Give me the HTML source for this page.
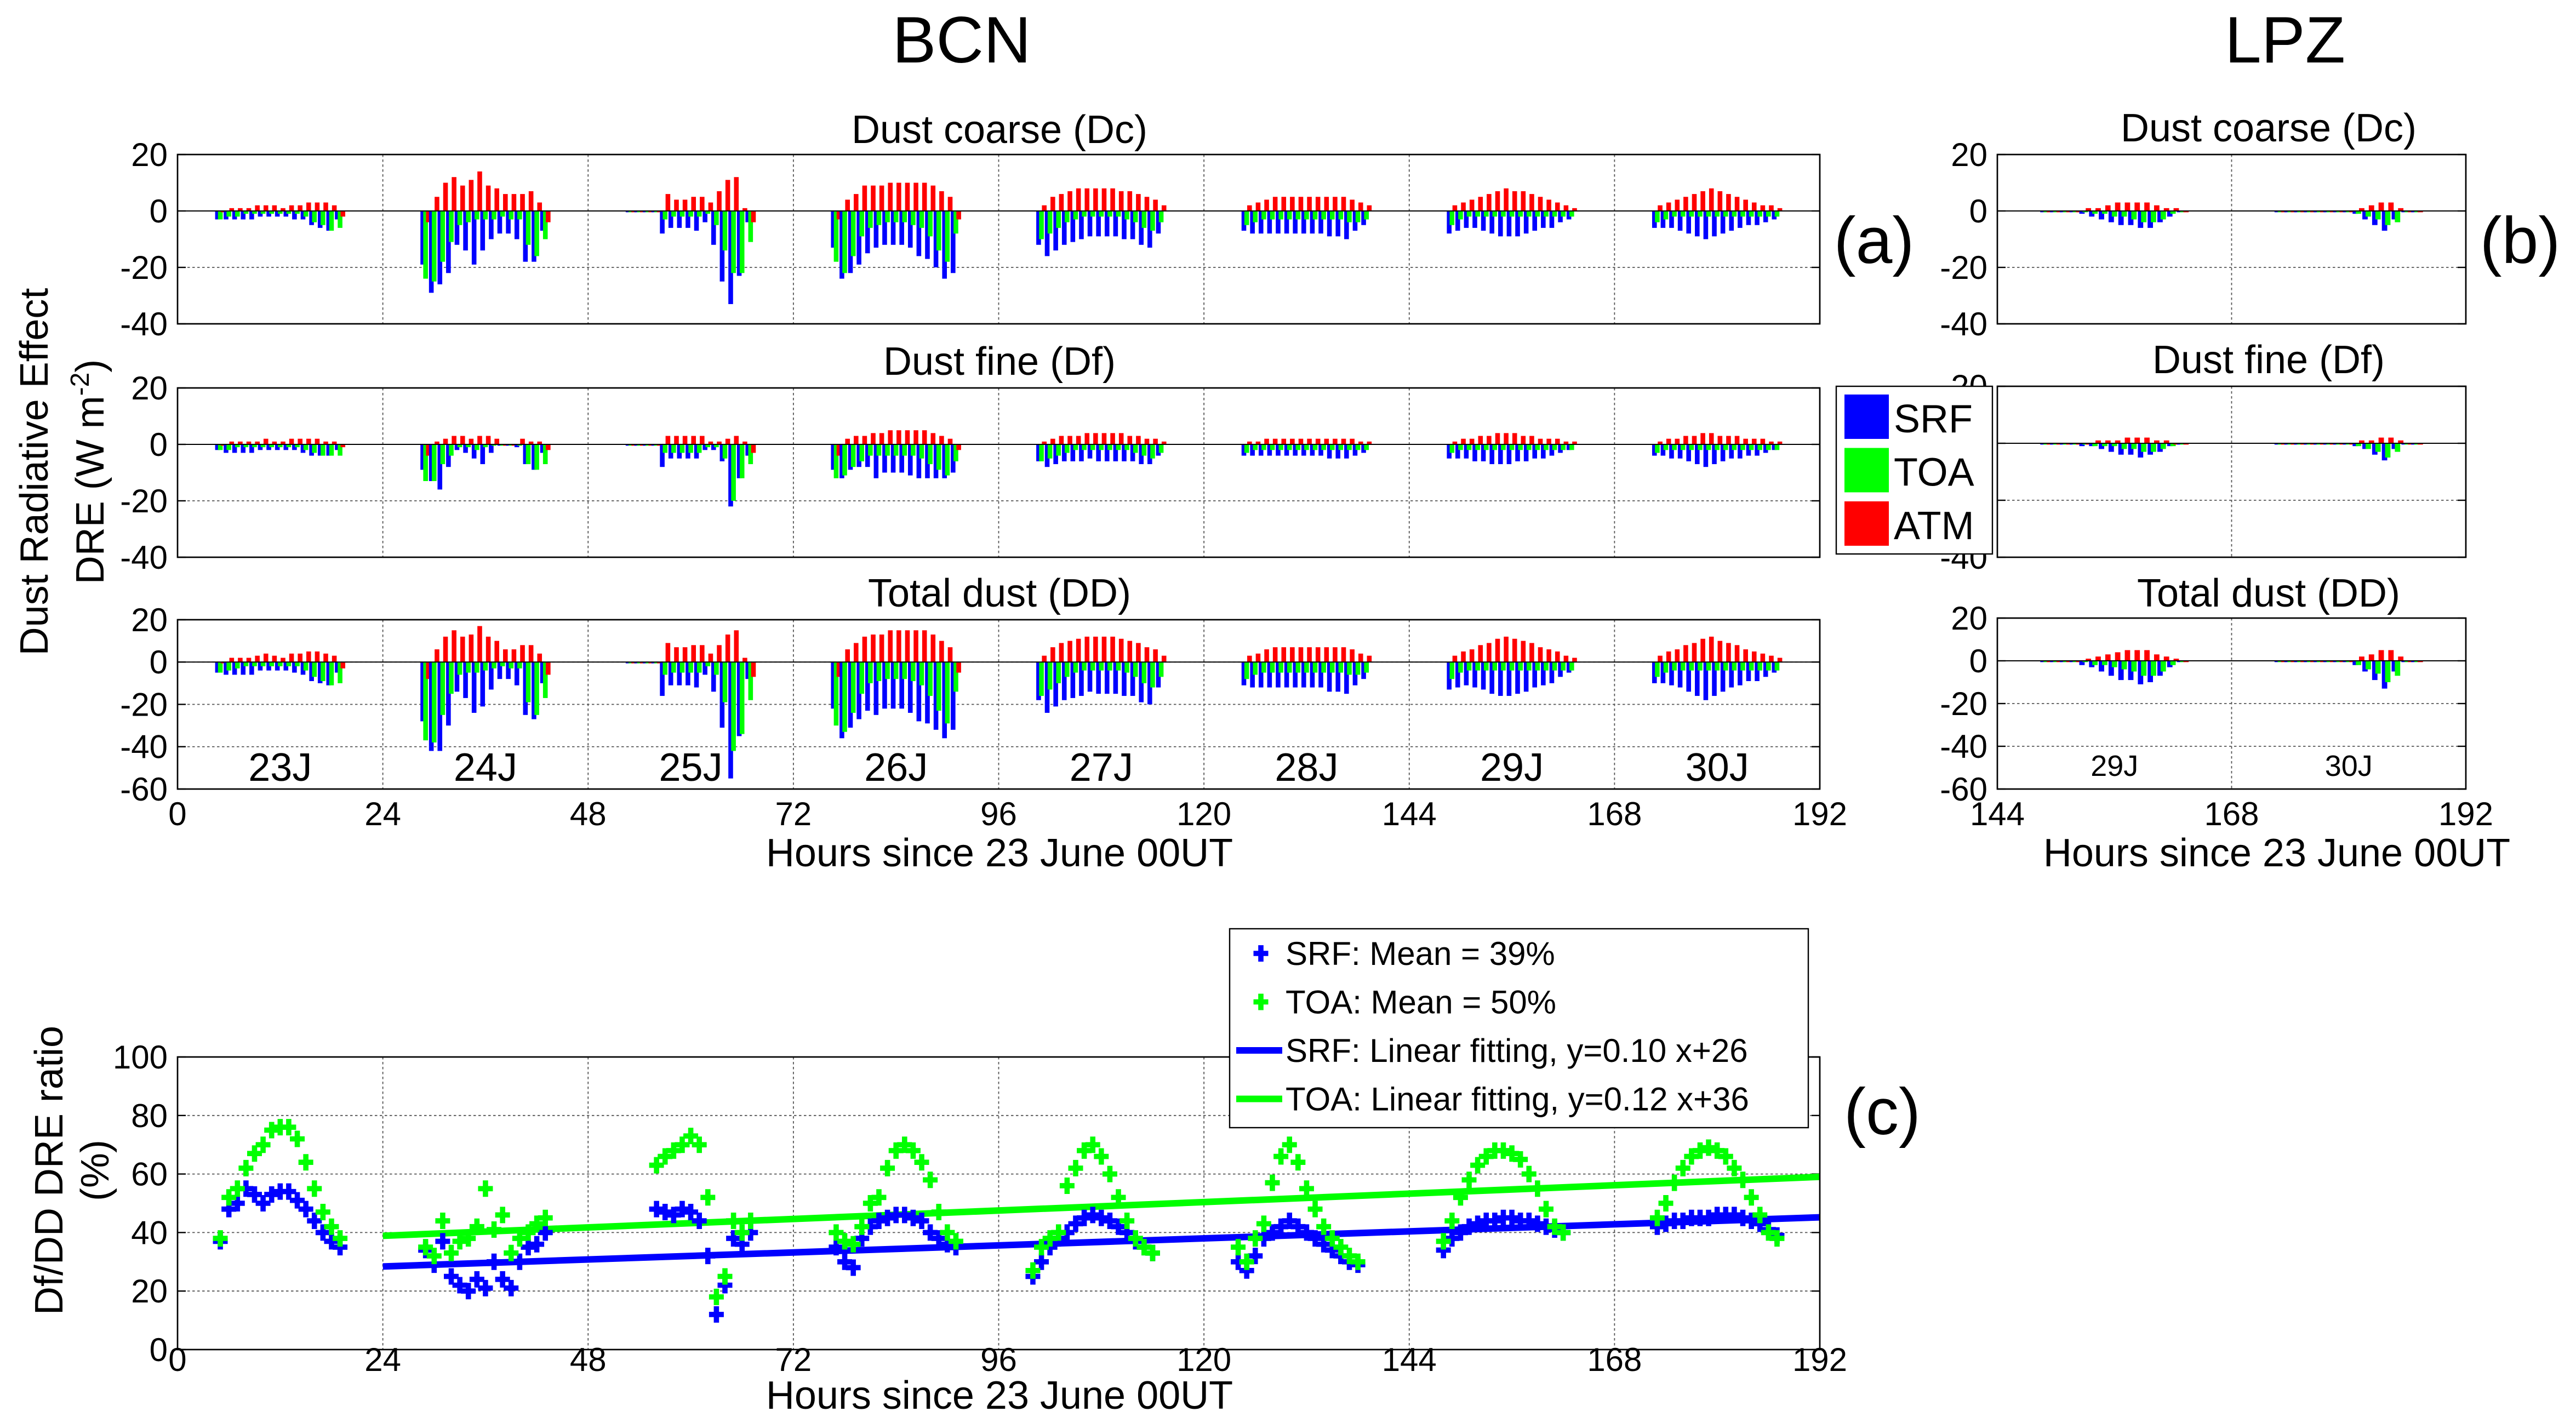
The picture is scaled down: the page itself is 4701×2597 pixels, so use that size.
<!DOCTYPE html>
<html><head><meta charset="utf-8"><style>
html,body{margin:0;padding:0;background:#fff}
svg{display:block}
text{font-family:"Liberation Sans",Arial,sans-serif;fill:#000}
</style></head><body>
<svg id="fig" xmlns="http://www.w3.org/2000/svg" width="4701" height="2597" viewBox="0 0 1567 865.67">
<rect x="0" y="0" width="1567" height="866" fill="#fff"/>
<g id="layer"></g>
</svg>
<script>
// ---------- data ----------
const dayLabels = ["23J","24J","25J","26J","27J","28J","29J","30J"];
const dayStart = [5,29,53,77,101,125,149,173];
const xTicks = [0,24,48,72,96,120,144,168,192];
const lpzTicks = [144,168,192];
const yTicksA = [20,0,-20,-40];
const yTicksDD = [20,0,-20,-40,-60];
const yTicksC = [100,80,60,40,20,0];

const dcSRF = [
[-3,-3,-3,-3,-3,-2,-2,-2,-2,-3,-3,-5,-6,-7,-3],
[-19,-29,-26,-22,-12,-14,-19,-14,-10,-8,-8,-10,-18,-18,-7],
[0,0,0,0,-8,-6,-6,-6,-7,-4,-12,-25,-33,-23,-4],
[-13,-24,-22,-19,-15,-13,-12,-12,-12,-13,-16,-17,-20,-24,-22],
[-12,-16,-14,-12,-11,-10,-9,-9,-9,-9,-10,-10,-12,-13,-8],
[-7,-8,-8,-8,-8,-8,-8,-8,-8,-8,-9,-9,-10,-7,-5],
[-8,-7,-6,-6,-7,-8,-9,-9,-9,-8,-7,-6,-6,-4,-3],
[-6,-6,-6,-7,-8,-9,-10,-9,-8,-7,-6,-5,-5,-4,-3]];
const dcTOA = [
[-3,-2,-2,-1,-1,-1,-1,-1,-1,-1,-2,-4,-5,-7,-6],
[-24,-25,-18,-11,-5,-4,-3,-3,-3,-2,-3,-3,-12,-16,-10],
[0,0,0,0,-3,-2,-2,-2,-2,-1,-5,-14,-22,-22,-11],
[-18,-22,-16,-9,-6,-5,-4,-4,-4,-5,-6,-9,-14,-18,-8],
[-10,-8,-6,-4,-3,-2,-2,-2,-2,-2,-3,-4,-6,-7,-4],
[-5,-4,-3,-3,-3,-3,-3,-3,-3,-3,-3,-3,-4,-4,-3],
[-5,-3,-2,-2,-2,-2,-2,-2,-2,-2,-2,-2,-2,-2,-2],
[-4,-3,-2,-2,-2,-2,-2,-2,-2,-2,-2,-2,-2,-2,-2]];
const dcATM = [
[0,1,1,1,2,2,2,1,2,2,3,3,3,2,-2],
[-4,5,10,12,9,11,14,9,8,6,6,6,7,3,-4],
[0,0,0,0,6,4,4,5,5,3,7,11,12,1,-4],
[-3,4,6,9,9,9,10,10,10,10,10,9,7,5,-3],
[2,5,6,7,8,8,8,8,8,7,7,6,5,4,2],
[2,3,4,5,5,5,5,5,5,5,5,5,4,3,2],
[2,3,4,5,6,7,8,7,7,6,5,4,3,2,1],
[2,3,4,5,6,7,8,7,6,5,4,3,2,2,1]];
const dfSRF = [
[-2,-3,-3,-3,-3,-2,-2,-2,-2,-2,-3,-4,-4,-4,-2],
[-9,-13,-16,-8,-2,-3,-5,-7,-3,0,0,-1,-7,-9,-3],
[0,0,0,0,-8,-5,-5,-5,-5,-2,-2,-6,-22,-12,-4],
[-9,-12,-9,-8,-8,-12,-10,-10,-10,-11,-12,-12,-12,-12,-10],
[-6,-8,-7,-6,-6,-6,-5,-6,-6,-6,-6,-6,-7,-7,-4],
[-4,-4,-4,-4,-4,-4,-4,-4,-4,-4,-5,-5,-5,-4,-3],
[-5,-5,-5,-6,-6,-7,-7,-7,-6,-6,-5,-5,-4,-3,-2],
[-4,-4,-5,-5,-6,-7,-8,-7,-6,-5,-5,-4,-4,-3,-2]];
const dfTOA = [
[-2,-2,-1,-1,-1,-1,-1,-1,-1,-1,-2,-3,-4,-4,-4],
[-13,-13,-7,-4,-1,-1,-2,-1,0,0,0,0,-7,-9,-7],
[0,0,0,0,-3,-3,-3,-3,-3,-1,-1,-5,-20,-12,-7],
[-12,-11,-8,-6,-4,-4,-4,-4,-4,-4,-5,-7,-9,-11,-6],
[-6,-5,-4,-3,-2,-2,-2,-2,-2,-2,-2,-3,-4,-5,-3],
[-3,-2,-2,-2,-2,-2,-2,-2,-2,-2,-2,-2,-2,-2,-2],
[-3,-2,-2,-2,-2,-2,-2,-2,-2,-2,-2,-2,-2,-2,-2],
[-3,-2,-2,-2,-2,-2,-2,-2,-2,-2,-2,-2,-2,-2,-2]];
const dfATM = [
[0,1,1,1,1,2,1,1,2,2,2,2,1,1,-1],
[-4,1,2,3,3,2,3,3,2,0,0,2,1,1,-2],
[0,0,0,0,3,3,3,3,3,1,1,2,3,1,-3],
[-4,2,3,3,4,4,5,5,5,5,5,4,3,2,-2],
[1,2,3,3,3,4,4,4,4,4,3,3,2,2,1],
[1,1,2,2,2,2,2,2,2,2,2,2,2,1,1],
[1,2,2,3,3,4,4,4,3,3,2,2,2,1,1],
[1,2,2,3,3,4,4,3,3,3,2,2,2,1,1]];

const lpzDayStart = [149,173];
const lpzDcSRF = [[0,0,0,0,-1,-2,-3,-4,-5,-5,-6,-6,-4,-2,0],[0,0,0,0,0,0,0,0,-1,-3,-5,-7,-3,0,0]];
const lpzDcTOA = [[0,0,0,0,0,-1,-1,-2,-2,-3,-4,-4,-3,-1,0],[0,0,0,0,0,0,0,0,-1,-2,-3,-5,-4,0,0]];
const lpzDcATM = [[0,0,0,0,1,1,2,3,3,3,3,2,1,1,0],[0,0,0,0,0,0,0,0,1,2,3,3,1,0,0]];
const lpzDfSRF = [[0,0,0,0,-1,-1,-2,-3,-4,-4,-5,-4,-3,-1,0],[0,0,0,0,0,0,0,0,-1,-2,-4,-6,-2,0,0]];
const lpzDfTOA = [[0,0,0,0,0,-1,-1,-1,-2,-2,-3,-3,-2,-1,0],[0,0,0,0,0,0,0,0,-1,-2,-3,-5,-3,0,0]];
const lpzDfATM = [[0,0,0,0,0,1,1,1,2,2,2,1,1,0,0],[0,0,0,0,0,0,0,0,1,1,2,2,1,0,0]];

// panel (c) ratios
const ratioStart = [5,29,56,77,100,124,148,173];
const srfRatio = [
[37,48,50,55,53,50,53,54,54,51,48,44,40,37,35],
[34,29,37,25,22,20,24,21,30,24,21,30,35,36,40],
[48,47,46,48,47,44,32,12,22,38,36,40],
[35,30,28,38,42,44,45,46,46,45,44,40,38,36,35],
[25,30,35,38,40,43,45,46,45,44,42,40,37,35,33],
[30,27,32,38,40,42,44,42,40,38,36,34,32,30,29],
[34,38,40,42,43,44,44,45,45,44,44,43,42,41,40],
[42,43,44,44,45,45,45,46,46,46,45,44,43,41,39]];
const toaRatio = [
[38,52,55,62,67,70,75,76,76,72,64,55,47,42,38],
[35,32,44,33,37,38,42,55,41,46,33,38,40,43,45],
[63,66,68,70,73,70,52,18,25,44,40,44],
[40,37,36,42,50,52,62,68,70,68,64,58,47,40,37],
[27,35,38,40,56,62,68,70,66,60,52,44,38,35,33],
[35,30,38,43,57,66,70,64,55,48,42,38,35,32,30],
[37,44,52,58,63,66,68,68,67,65,60,55,48,42,40],
[45,50,57,62,66,68,69,68,66,62,58,52,46,40,38]];
const fitSlope = [0.10, 0.12];
const fitIntercept = [26, 36];
const fitRange = [24, 192];

// ---------- drawing ----------
const NS = "http://www.w3.org/2000/svg";
const L = document.getElementById('layer');
function mk(tag, attrs, parent){const e=document.createElementNS(NS,tag);for(const k in attrs)e.setAttribute(k,attrs[k]);(parent||L).appendChild(e);return e;}
function txt(s,x,y,size,anchor,parent,rot){const t=mk('text',{x:x,y:y,'font-size':size,'text-anchor':anchor||'middle'},parent);if(rot)t.setAttribute('transform',`rotate(${rot} ${x} ${y})`);t.textContent=s;return t;}
const COL = {srf:"#0000ff", toa:"#00ff00", atm:"#ff0000"};

function axesFrame(name, p, yticks, xt, showX, xOff){
  const g = mk('g',{});
  
  
  const sx=v=>p.x0+(v-p.h0)/(p.h1-p.h0)*(p.x1-p.x0);
  const sy=v=>p.y0+(p.v0-v)/(p.v0-p.v1)*(p.y1-p.y0);
  mk('rect',{x:p.x0,y:p.y0,width:p.x1-p.x0,height:p.y1-p.y0,fill:'#fff',stroke:'none'},g);
  xt.forEach(t=>{ if(t>p.h0&&t<p.h1) mk('line',{x1:sx(t),x2:sx(t),y1:p.y0,y2:p.y1,stroke:'#555','stroke-width':0.6,'stroke-dasharray':'1.5,1.5'},g);});
  yticks.forEach(t=>{ if(t<p.v0&&t>p.v1) mk('line',{x1:p.x0,x2:p.x1,y1:sy(t),y2:sy(t),stroke:'#555','stroke-width':0.6,'stroke-dasharray':'1.5,1.5'},g);});
  const lab = mk('g',{},g);
  
  
  yticks.forEach(t=>{ txt(String(t),p.x0-6,sy(t)+7,20,'end',lab); mk('line',{x1:p.x0,x2:p.x0+5,y1:sy(t),y2:sy(t),stroke:'#000','stroke-width':0.8},g); mk('line',{x1:p.x1,x2:p.x1-5,y1:sy(t),y2:sy(t),stroke:'#000','stroke-width':0.8},g);});
  if(showX){
    const xl = mk('g',{},g);
    
    
    xt.forEach(t=>txt(String(t),sx(t),p.y1+(xOff||22),20,'middle',xl));
  }
  return {g,sx,sy};
}
function frameBorder(p,g){mk('rect',{x:p.x0,y:p.y0,width:p.x1-p.x0,height:p.y1-p.y0,fill:'none',stroke:'#000','stroke-width':0.9},g);}

function drawBars(ax, starts, srf, toa, atm, g, bw){
  starts.forEach((st,d)=>{
    for(let i=0;i<srf[d].length;i++){
      const h=st+i;
      [[srf[d][i],COL.srf,-bw*0.6,'bar-srf'],[toa[d][i],COL.toa,0,'bar-toa'],[atm[d][i],COL.atm,bw*0.6,'bar-atm']].forEach(([v,c,off,nm])=>{
        const x=ax.sx(h+off-bw/2), w=ax.sx(h+off+bw/2)-x;
        const y0=ax.sy(0), y1=ax.sy(v);
        const r=mk('rect',{x:x,y:Math.min(y0,y1),width:w,height:Math.max(Math.abs(y1-y0),0.8),fill:c},g);
        
        
      });
    }
  });
}
function sum2(a,b){return a.map((r,i)=>r.map((v,j)=>v+b[i][j]));}

// BCN panels
const bcn = [
 {name:'bcn-dc-panel', title:'Dust coarse (Dc)', y0:94, y1:197, v0:20, v1:-40, ticks:yTicksA, s:dcSRF,t:dcTOA,a:dcATM, ty:87},
 {name:'bcn-df-panel', title:'Dust fine (Df)', y0:236, y1:339, v0:20, v1:-40, ticks:yTicksA, s:dfSRF,t:dfTOA,a:dfATM, ty:228},
 {name:'bcn-dd-panel', title:'Total dust (DD)', y0:377, y1:480, v0:20, v1:-60, ticks:yTicksDD, s:sum2(dcSRF,dfSRF),t:sum2(dcTOA,dfTOA),a:sum2(dcATM,dfATM), ty:369}
];
bcn.forEach((P,k)=>{
  const p={x0:108,x1:1107,h0:0,h1:192,y0:P.y0,y1:P.y1,v0:P.v0,v1:P.v1};
  const ax=axesFrame(P.name,p,P.ticks,xTicks,k==2);
  const bg=mk('g',{},ax.g);
  
  
  drawBars(ax,dayStart,P.s,P.t,P.a,bg,0.55);
  mk('line',{x1:p.x0,x2:p.x1,y1:ax.sy(0),y2:ax.sy(0),stroke:'#000','stroke-width':0.7},ax.g);
  frameBorder(p,ax.g);
  const tt=txt(P.title,608,P.ty,24,'middle',ax.g);
  
  
  if(k==2){
    dayLabels.forEach((d,i)=>{const t=txt(d,ax.sx(i*24+12),475,24,'middle',ax.g);});
  }
});
// LPZ panels
const lpz = [
 {name:'lpz-dc-panel', title:'Dust coarse (Dc)', y0:94, y1:197, v0:20, v1:-40, ticks:yTicksA, s:lpzDcSRF,t:lpzDcTOA,a:lpzDcATM, ty:86},
 {name:'lpz-df-panel', title:'Dust fine (Df)', y0:235, y1:339, v0:20, v1:-40, ticks:yTicksA, s:lpzDfSRF,t:lpzDfTOA,a:lpzDfATM, ty:227},
 {name:'lpz-dd-panel', title:'Total dust (DD)', y0:376, y1:480, v0:20, v1:-60, ticks:yTicksDD, s:sum2(lpzDcSRF,lpzDfSRF),t:sum2(lpzDcTOA,lpzDfTOA),a:sum2(lpzDcATM,lpzDfATM), ty:369}
];
lpz.forEach((P,k)=>{
  const p={x0:1215,x1:1500,h0:144,h1:192,y0:P.y0,y1:P.y1,v0:P.v0,v1:P.v1};
  const ax=axesFrame(P.name,p,P.ticks,lpzTicks,k==2);
  const bg=mk('g',{},ax.g);
  
  
  drawBars(ax,lpzDayStart,P.s,P.t,P.a,bg,0.55);
  mk('line',{x1:p.x0,x2:p.x1,y1:ax.sy(0),y2:ax.sy(0),stroke:'#000','stroke-width':0.7},ax.g);
  frameBorder(p,ax.g);
  const tt=txt(P.title,1380,P.ty,24,'middle',ax.g);
  
  
  if(k==2){ ['29J','30J'].forEach((d,i)=>{const t=txt(d,ax.sx(156+24*i),472,18,'middle',ax.g);}); }
});

// panel c
(function(){
  const p={x0:108,x1:1107,h0:0,h1:192,y0:643,y1:821,v0:100,v1:0};
  const ax=axesFrame('ratio-panel',p,yTicksC,xTicks,true,13);
  const lg=mk('g',{},ax.g);
  
  
  [[COL.srf,0,'srf-fit-line'],[COL.toa,1,'toa-fit-line']].forEach(([c,i,nm])=>{
    const l=mk('line',{x1:ax.sx(fitRange[0]),x2:ax.sx(fitRange[1]),y1:ax.sy(fitSlope[i]*fitRange[0]+fitIntercept[i]),y2:ax.sy(fitSlope[i]*fitRange[1]+fitIntercept[i]),stroke:c,'stroke-width':4},lg);
    
    
  });
  function plus(x,y,c,g,nm){const e=mk('path',{d:`M${x-4.5},${y}H${x+4.5}M${x},${y-5}V${y+5}`,stroke:c,'stroke-width':3.2,fill:'none'},g);}
  const sg=mk('g',{},ax.g);  
  const tg=mk('g',{},ax.g);  
  ratioStart.forEach((st,d)=>{
    srfRatio[d].forEach((v,i)=>plus(ax.sx(st+i),ax.sy(v),COL.srf,sg,'srf-point'));
    toaRatio[d].forEach((v,i)=>plus(ax.sx(st+i),ax.sy(v),COL.toa,tg,'toa-point'));
  });
  frameBorder(p,ax.g);
  // legend
  const lgd=mk('g',{});
  
  
  mk('rect',{x:748,y:565,width:352,height:121,fill:'#fff',stroke:'#000','stroke-width':0.8},lgd);
  const items=[['SRF: Mean = 39%',COL.srf,'m'],['TOA: Mean = 50%',COL.toa,'m'],['SRF: Linear fitting, y=0.10 x+26',COL.srf,'l'],['TOA: Linear fitting, y=0.12 x+36',COL.toa,'l']];
  items.forEach(([s,c,k],i)=>{
    const y=580+i*29.5;
    if(k=='m') plus(767,y,c,lgd,'legend-marker');
    else mk('line',{x1:752,x2:780,y1:y,y2:y,stroke:c,'stroke-width':4},lgd);
    const t=txt(s,782,y+7,20,'start',lgd);
    
    
  });
})();

// bar legend
(function(){
  const g=mk('g',{});
  
  
  mk('rect',{x:1117,y:235,width:95,height:102,fill:'#fff',stroke:'#000','stroke-width':0.8},g);
  [['SRF',COL.srf],['TOA',COL.toa],['ATM',COL.atm]].forEach(([s,c],i)=>{
    const y=240+i*32.5;
    mk('rect',{x:1122,y:y,width:27,height:27,fill:c},g);
    const t=txt(s,1152,y+23,24,'start',g);
    
    
  });
})();

// titles & labels
function lbl(s,x,y,size,name,anchor,rot){const t=txt(s,x,y,size,anchor||'middle',null,rot);return t;}
lbl('BCN',585,38,40,'bcn-title');
lbl('LPZ',1390,38,40,'lpz-title');
lbl('(a)',1140,160,40,'panel-a-label');
lbl('(b)',1533,160,40,'panel-b-label');
lbl('(c)',1145,690,40,'panel-c-label');
lbl('Hours since 23 June 00UT',608,527,24,'bcn-x-axis-title');
lbl('Hours since 23 June 00UT',1385,527,24,'lpz-x-axis-title');
lbl('Hours since 23 June 00UT',608,857,24,'ratio-x-axis-title');
lbl('Dust Radiative Effect',29,287,24,'y-axis-title','middle',-90);
(function(){const t=txt('',63,287,24,'middle',null,-90);
 t.innerHTML='DRE (W m<tspan dy="-9" font-size="16">-2</tspan><tspan dy="9">)</tspan>';})();
lbl('Df/DD DRE ratio',38,712,24,'ratio-y-axis-title','middle',-90);
lbl('(%)',66,712,24,'ratio-y-axis-units','middle',-90);
</script>
</body></html>
